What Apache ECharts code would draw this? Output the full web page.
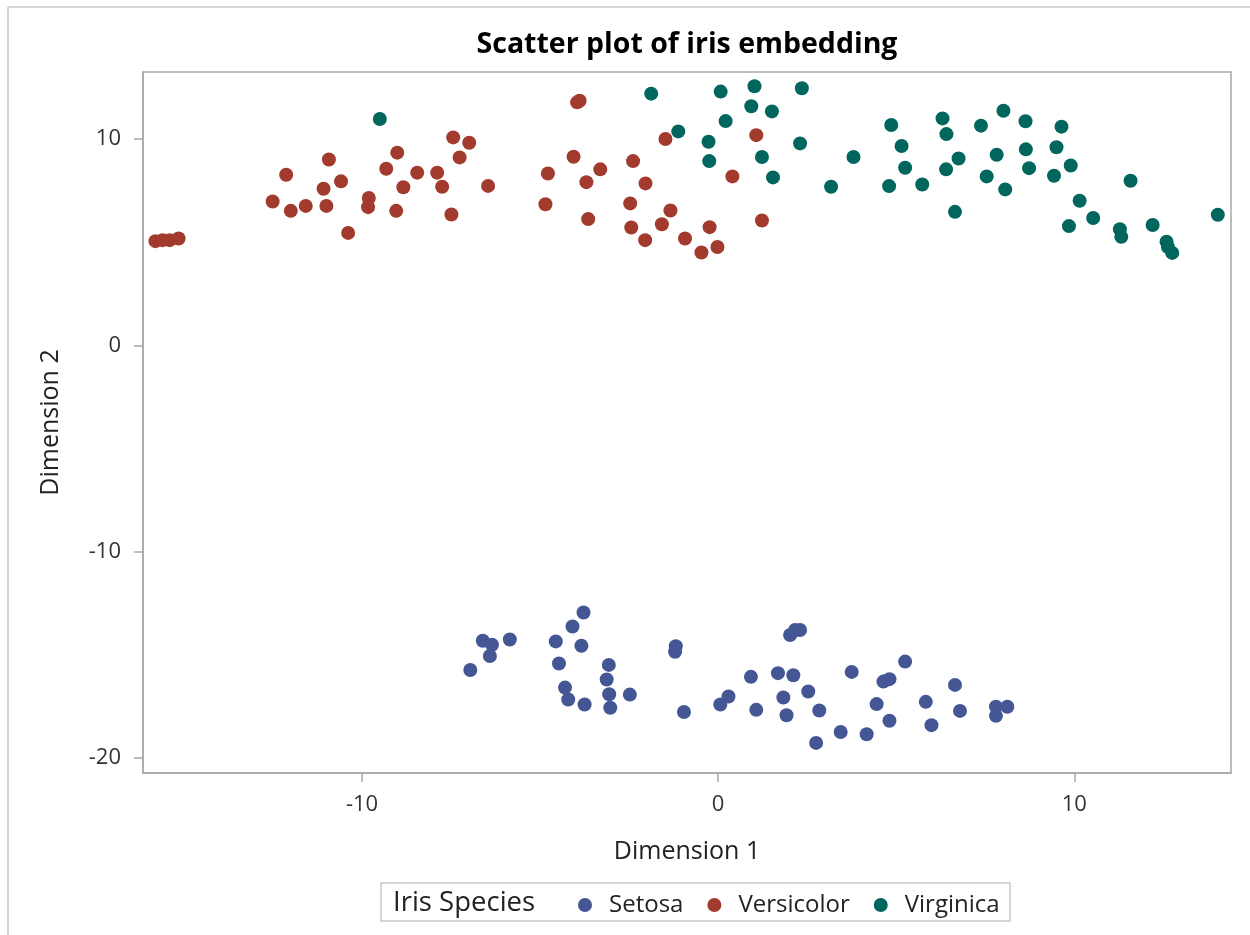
<!DOCTYPE html>
<html>
<head>
<meta charset="utf-8">
<script src="https://cdn.jsdelivr.net/npm/echarts@6/dist/echarts.min.js"></script>
<style>
html,body{margin:0;padding:0;background:#fff;}
#chart{width:1250px;height:935px;}
</style>
</head>
<body>
<div id="chart"></div>
<script>
const seriesNames = ["Setosa", "Versicolor", "Virginica"];
const seriesColors = ["#445694", "#A23A2E", "#01665E"];
const xTicks = [-10, 0, 10];
const yTicks = [-20, -10, 0, 10];

const setosa = [
  [-6.96,-15.74],[-6.61,-14.32],[-6.35,-14.51],[-6.41,-15.06],[-5.85,-14.26],
  [-4.56,-14.35],[-4.09,-13.63],[-3.78,-12.95],[-3.84,-14.56],[-4.47,-15.42],
  [-4.30,-16.59],[-4.21,-17.17],[-3.75,-17.41],[-3.07,-15.49],[-3.13,-16.20],
  [-3.06,-16.91],[-3.03,-17.57],[-2.48,-16.93],[-1.19,-14.58],[-1.21,-14.85],
  [-0.96,-17.77],[0.06,-17.41],[0.29,-17.02],[0.92,-16.07],[1.07,-17.67],
  [1.68,-15.89],[2.11,-15.99],[1.83,-17.07],[1.92,-17.93],[2.02,-14.04],
  [2.16,-13.80],[2.30,-13.80],[2.53,-16.78],[2.84,-17.70],[2.75,-19.27],
  [3.44,-18.74],[3.75,-15.83],[4.17,-18.85],[4.45,-17.39],[4.81,-18.20],
  [4.64,-16.30],[4.81,-16.18],[5.25,-15.33],[5.83,-17.28],[5.99,-18.41],
  [6.65,-16.46],[6.79,-17.72],[7.80,-17.52],[7.80,-17.96],[8.12,-17.52]
];
const versicolor = [
  [-7.44,10.08],[-6.99,9.82],[-9.01,9.34],[-10.93,9.01],[-7.26,9.11],
  [-12.13,8.27],[-9.32,8.56],[-8.45,8.37],[-7.89,8.37],[-10.59,7.95],
  [-11.08,7.59],[-8.84,7.66],[-7.75,7.69],[-6.46,7.73],[-12.51,6.97],
  [-12.00,6.52],[-11.58,6.76],[-11.00,6.76],[-9.81,7.14],[-9.83,6.70],
  [-9.04,6.52],[-7.49,6.34],[-10.39,5.45],[-15.80,5.05],[-15.60,5.10],
  [-15.40,5.10],[-15.15,5.18],[-3.96,11.78],[-3.89,11.86],[-1.48,10.00],
  [1.07,10.19],[-4.06,9.14],[-4.78,8.33],[-3.31,8.53],[-3.70,7.91],
  [-2.39,8.93],[-2.04,7.85],[0.40,8.19],[-4.85,6.84],[-3.65,6.12],
  [-2.47,6.88],[-1.34,6.54],[-1.58,5.87],[-2.44,5.71],[-2.05,5.10],
  [-0.93,5.18],[-0.24,5.73],[-0.02,4.77],[-0.47,4.50],[1.23,6.05]
];
const virginica = [
  [-9.50,10.97],[-1.88,12.20],[0.07,12.30],[1.02,12.56],[2.35,12.46],
  [0.93,11.59],[1.51,11.34],[0.21,10.87],[-1.12,10.37],[-0.27,9.87],
  [2.30,9.79],[-0.25,8.93],[1.23,9.13],[3.80,9.13],[1.54,8.14],
  [3.17,7.69],[4.86,10.68],[5.15,9.66],[5.25,8.61],[4.80,7.72],
  [5.73,7.80],[6.30,11.00],[6.41,10.24],[6.75,9.06],[6.40,8.53],
  [6.65,6.47],[7.38,10.65],[8.01,11.37],[8.63,10.86],[9.64,10.60],
  [7.82,9.24],[8.64,9.50],[9.50,9.60],[7.54,8.19],[8.06,7.56],
  [8.73,8.59],[9.43,8.22],[9.90,8.72],[11.58,7.98],[10.15,7.01],
  [10.53,6.17],[9.85,5.78],[11.28,5.63],[11.32,5.26],[12.20,5.83],
  [12.59,5.02],[12.63,4.77],[12.75,4.48],[14.03,6.33]
];
const seriesData = [setosa, versicolor, virginica];

const FONT = "'Open Sans', 'DejaVu Sans', sans-serif";
const chart = echarts.init(document.getElementById('chart'), null, {renderer: 'canvas'});

chart.setOption({
  animation: false,
  backgroundColor: '#fff',
  title: {
    text: 'Scatter plot of iris embedding',
    left: 682, top: 25, textAlign: 'center',
    textStyle: {fontFamily: FONT, fontWeight: 'bold', fontSize: 28.5, color: '#000'}
  },
  grid: {left: 143, right: 19, top: 72, bottom: 162, show: true, borderColor: '#a8a8a8', borderWidth: 1.5, backgroundColor: '#fff'},
  xAxis: {
    type: 'value', min: -16.15, max: 14.4,
    name: 'Dimension 1', nameLocation: 'middle', nameGap: 66,
    nameTextStyle: {fontFamily: FONT, fontSize: 25, color: '#222'},
    axisLine: {show: true, onZero: false, lineStyle: {color: '#a8a8a8', width: 1.5}},
    axisTick: {show: true, length: 9, customValues: xTicks, lineStyle: {color: '#a8a8a8', width: 1.5}},
    axisLabel: {customValues: xTicks, fontFamily: FONT, fontSize: 22, color: '#333', margin: 21},
    splitLine: {show: false}
  },
  yAxis: {
    type: 'value', min: -20.73, max: 13.25,
    name: 'Dimension 2', nameLocation: 'middle', nameGap: 80,
    nameTextStyle: {fontFamily: FONT, fontSize: 25, color: '#222'},
    axisLine: {show: true, onZero: false, lineStyle: {color: '#a8a8a8', width: 1.5}},
    axisTick: {show: true, length: 9, customValues: yTicks, lineStyle: {color: '#a8a8a8', width: 1.5}},
    axisLabel: {customValues: yTicks, fontFamily: FONT, fontSize: 22, color: '#333', margin: 22},
    splitLine: {show: false}
  },
  legend: {
    data: seriesNames,
    left: 573, top: 888,
    icon: 'circle', itemWidth: 14, itemHeight: 14, itemGap: 24,
    textStyle: {fontFamily: FONT, fontSize: 24, color: '#222', padding: [0,0,0,12]}
  },
  graphic: [
    {type: 'line', shape: {x1: 8, y1: 7, x2: 1250, y2: 7}, style: {stroke: '#d6d6d6', lineWidth: 2}, silent: true},
    {type: 'line', shape: {x1: 8, y1: 7, x2: 8, y2: 935}, style: {stroke: '#d6d6d6', lineWidth: 2}, silent: true},
    {type: 'rect', shape: {x: 381, y: 883, width: 629, height: 38}, style: {fill: 'none', stroke: '#c8c8c8', lineWidth: 1.5}, silent: true, z: -1},
    {type: 'text', x: 393, y: 903, style: {text: 'Iris Species', fontFamily: FONT, fontSize: 27.5, fill: '#222', textVerticalAlign: 'middle'}, silent: true}
  ],
  series: seriesNames.map((n, i) => ({
    name: n, type: 'scatter', data: seriesData[i],
    symbol: 'circle', symbolSize: 14,
    itemStyle: {color: seriesColors[i], opacity: 1}
  }))
});
</script>
</body>
</html>
